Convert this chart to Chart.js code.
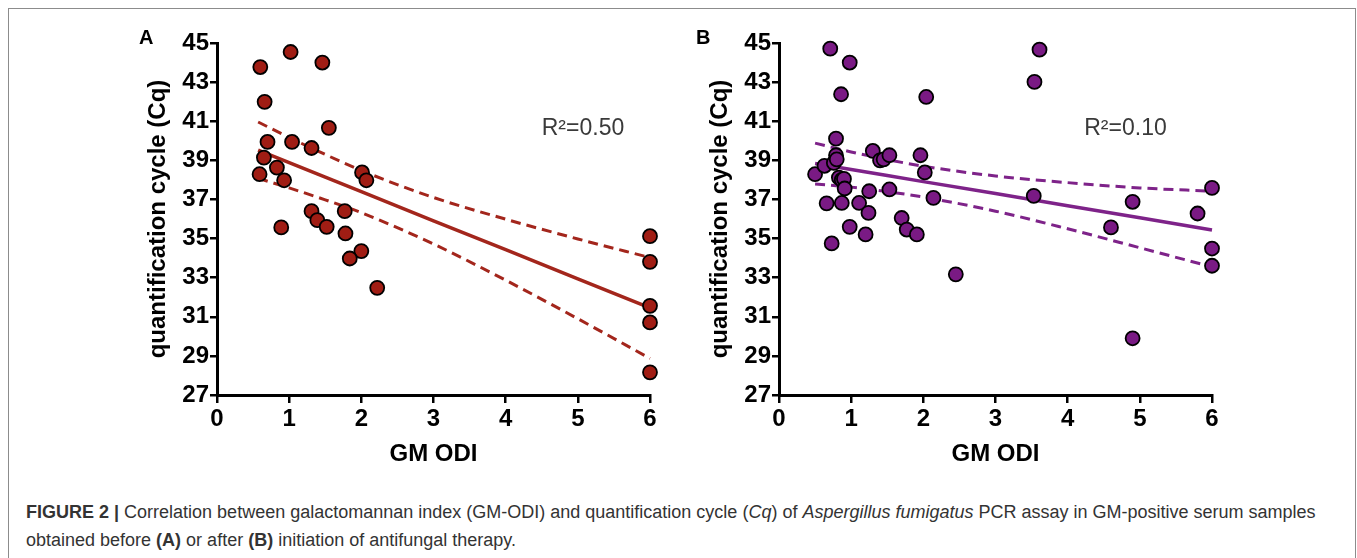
<!DOCTYPE html>
<html>
<head>
<meta charset="utf-8">
<script src="https://cdn.jsdelivr.net/npm/chart.js@4"></script>
<style>
    body { margin: 0; background: #fff; width: 1357px; height: 558px; overflow: hidden; position: relative; font-family: "Liberation Sans", Arial, sans-serif; }
    #frame { position: absolute; left: 8px; top: 8px; width: 1346px; height: 600px; border: 1px solid #8c8c8c; }
    canvas { position: absolute; top: 0; }
    #chartA { left: 0; }
    #chartB { left: 562px; }
    #caption { position: absolute; left: 26px; top: 498px; font-size: 18px; line-height: 28px; color: #333; white-space: nowrap; }
</style>
</head>
<body>
<div id="frame"></div>
<canvas id="chartA" width="680" height="480"></canvas>
<canvas id="chartB" width="680" height="480"></canvas>
<div id="caption"><b>FIGURE 2 |</b> Correlation between galactomannan index (GM-ODI) and quantification cycle (<i>Cq</i>) of <i>Aspergillus fumigatus</i> PCR assay in GM-positive serum samples<br>obtained before <b>(A)</b> or after <b>(B)</b> initiation of antifungal therapy.</div>
<script>
// panel A: before antifungal therapy
const xA = [0.60, 1.02, 1.46, 0.66, 1.55, 0.70, 1.04, 1.31, 0.65, 0.83, 0.59, 0.93, 2.01, 2.07,
    1.31, 1.77, 0.89, 1.39, 1.52, 1.78, 2.00, 1.84, 2.22, 6, 6, 6, 6, 6];
const yA = [43.77, 44.54, 44.00, 41.99, 40.66, 39.94, 39.94, 39.63, 39.14, 38.63, 38.29, 37.98, 38.38, 37.98,
    36.40, 36.40, 35.57, 35.94, 35.60, 35.26, 34.36, 33.98, 32.48, 35.12, 33.81, 31.56, 30.71, 28.16];
const fitXA = [0.57, 1, 1.5, 2, 3, 4, 5, 6];
const fitA = [39.52, 38.88, 38.14, 37.40, 35.91, 34.43, 32.94, 31.45];
const upperA = [40.96, 40.17, 39.30, 38.48, 37.10, 35.99, 34.98, 34.03];
const lowerA = [38.08, 37.59, 36.98, 36.32, 34.72, 32.87, 30.90, 28.87];

// panel B: after initiation of therapy
const xB = [0.50, 0.63, 0.66, 0.71, 0.73, 0.76, 0.79, 0.79, 0.80, 0.83, 0.87, 0.90, 0.86, 0.87, 0.91,
    0.98, 0.98, 1.11, 1.20, 1.24, 1.25, 1.30, 1.40, 1.45, 1.53, 1.53, 1.70, 1.77, 1.91, 1.96,
    2.02, 2.04, 2.14, 2.45, 3.53, 3.54, 3.61, 4.60, 4.90, 4.90, 5.80, 6.0, 6.0, 6.0];
const yB = [38.29, 38.72, 36.80, 44.71, 34.75, 38.87, 40.11, 39.26, 39.05, 38.12, 38.00, 38.05, 42.38, 36.82, 37.56,
    44.00, 35.60, 36.82, 35.21, 36.31, 37.42, 39.48, 39.00, 39.05, 39.26, 37.51, 36.05, 35.46, 35.21, 39.26,
    38.38, 42.24, 37.08, 33.17, 37.18, 43.01, 44.66, 35.57, 36.88, 29.90, 36.28, 37.59, 34.49, 33.61];
const fitXB = [0.5, 1, 1.5, 2, 3, 4, 5, 6];
const fitB = [38.84, 38.53, 38.22, 37.91, 37.30, 36.68, 36.06, 35.44];
const upperB = [39.88, 39.43, 39.04, 38.70, 38.20, 37.86, 37.59, 37.42];
const lowerB = [37.79, 37.63, 37.40, 37.12, 36.40, 35.50, 34.53, 33.55];

const yTicks = [27, 29, 31, 33, 35, 37, 39, 41, 43, 45];
const xTicks = [0, 1, 2, 3, 4, 5, 6];

const pairs = (xs, ys) => xs.map((x, i) => ({ x: x, y: ys[i] }));

// panel letter and R² text
const panelText = {
    id: "panelText",
    afterDraw(chart, args, opts) {
        const ctx = chart.ctx;
        ctx.save();
        ctx.fillStyle = "#000";
        ctx.font = "bold 20px 'Liberation Sans', Arial";
        ctx.textBaseline = "alphabetic";
        ctx.fillText(opts.letter, opts.letterX, 44);
        ctx.fillStyle = "#3a3a3a";
        ctx.font = "23px 'Liberation Sans', Arial";
        ctx.textBaseline = "middle";
        const px = chart.scales.x.getPixelForValue(opts.at[0]);
        const py = chart.scales.y.getPixelForValue(opts.at[1]);
        ctx.fillText(opts.r2, px, py);
        ctx.restore();
    },
};

function makeChart(id, xs, ys, fx, fit, up, lo, fill, lineColor, letter, letterX, r2, at) {
    const band = (vals) => ({
        type: "line",
        data: pairs(fx, vals),
        borderColor: lineColor,
        borderWidth: 3,
        borderDash: [10, 6],
        pointRadius: 0,
        cubicInterpolationMode: "monotone",
        fill: false,
        clip: false,
    });
    return new Chart(document.getElementById(id).getContext("2d"), {
        type: "scatter",
        data: {
            datasets: [
                {
                    data: pairs(xs, ys),
                    backgroundColor: fill,
                    borderColor: "#000",
                    borderWidth: 1.8,
                    pointRadius: 7,
                    clip: false,
                },
                {
                    type: "line",
                    data: pairs(fx, fit),
                    borderColor: lineColor,
                    borderWidth: 3.5,
                    pointRadius: 0,
                    fill: false,
                    clip: false,
                },
                band(up),
                band(lo),
            ],
        },
        options: {
            responsive: false,
            animation: false,
            layout: { padding: { left: 130, top: 43, right: 30, bottom: 0 } },
            scales: {
                x: {
                    type: "linear",
                    min: 0,
                    max: 6,
                    afterBuildTicks: (axis) => { axis.ticks = xTicks.map((v) => ({ value: v })); },
                    afterFit: (axis) => { axis.height = 85; },
                    border: { display: true, color: "#000", width: 3 },
                    grid: { display: true, drawOnChartArea: false, drawTicks: true, tickLength: 8, color: "#000", lineWidth: 2.5 },
                    ticks: { color: "#000", padding: 2, font: { family: "'Liberation Sans', Arial", size: 24, weight: "bold", lineHeight: 1.2 } },
                    title: {
                        display: true,
                        text: "GM ODI",
                        color: "#000",
                        padding: { top: 0, bottom: 11 },
                        font: { family: "'Liberation Sans', Arial", size: 24, weight: "bold", lineHeight: 1.2 },
                    },
                },
                y: {
                    type: "linear",
                    min: 27,
                    max: 45,
                    afterBuildTicks: (axis) => { axis.ticks = yTicks.map((v) => ({ value: v })); },
                    afterFit: (axis) => { axis.width = 87; },
                    border: { display: true, color: "#000", width: 3 },
                    grid: { display: true, drawOnChartArea: false, drawTicks: true, tickLength: 7, color: "#000", lineWidth: 2.5 },
                    ticks: { color: "#000", padding: 1, font: { family: "'Liberation Sans', Arial", size: 24, weight: "bold", lineHeight: 1.2 } },
                    title: {
                        display: true,
                        text: "quantification cycle (Cq)",
                        color: "#000",
                        padding: { top: 14, bottom: 0 },
                        font: { family: "'Liberation Sans', Arial", size: 24, weight: "bold", lineHeight: 1.2 },
                    },
                },
            },
            plugins: {
                legend: { display: false },
                tooltip: { enabled: false },
                panelText: { letter: letter, letterX: letterX, r2: r2, at: at },
            },
        },
        plugins: [panelText],
    });
}

document.addEventListener("DOMContentLoaded", () => {
    makeChart("chartA", xA, yA, fitXA, fitA, upperA, lowerA, "#a01d14", "#a3261c", "A", 139, "R²=0.50", [4.5, 40.6]);
    makeChart("chartB", xB, yB, fitXB, fitB, upperB, lowerB, "#7a1a84", "#7e2389", "B", 134, "R²=0.10", [4.23, 40.6]);
});
</script>
</body>
</html>
